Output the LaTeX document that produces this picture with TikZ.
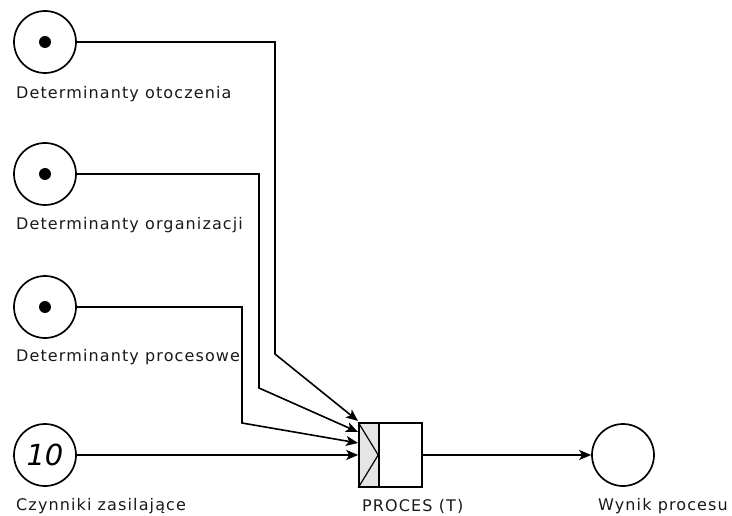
\documentclass[tikz,border=0pt]{standalone}
\usepackage{fontspec}
\usetikzlibrary{arrows.meta}
\newfontfamily\lblfont[LetterSpace=7]{DejaVu Sans}
\newfontfamily\numfont{DejaVu Sans}
\begin{document}
\begin{tikzpicture}[x=1pt,y=-1pt,
  place/.style={circle, draw, line width=1.7pt, minimum size=62pt, inner sep=0pt},
  token/.style={circle, fill=black, minimum size=12pt, inner sep=0pt},
  lbl/.style={anchor=west, inner sep=0pt, text=black!90, font=\lblfont\fontsize{16}{19}\selectfont},
  arc/.style={line width=1.6pt, -{Stealth[length=12pt,width=10pt,inset=3pt]}},
  trans/.style={draw, line width=1.6pt, minimum width=63pt, minimum height=64pt, inner sep=0pt}]
\useasboundingbox (0,0) rectangle (732,516);

% places
\node[place] (p1) at (45,42) {};
\node[token] (k1) at (p1) {};
\node[place] (p2) at (45,174) {};
\node[token] (k2) at (p2) {};
\node[place] (p3) at (45,307) {};
\node[token] (k3) at (p3) {};
\node[place] (p4) at (45,455) {\numfont\itshape\fontsize{29}{30}\selectfont 10};
\node[place] (out) at (623,455) {};

% transition
\fill[black!10] (359,423) rectangle (380,487);
\node[trans] (t) at (390.5,455) {};
\draw[line width=1.6pt] ([xshift=21pt]t.north west) -- ([xshift=21pt]t.south west);
\draw[line width=1.2pt] (t.north west) -- ([xshift=20pt]t.west) -- (t.south west);

% arrow end points
\coordinate (e1) at (358,421);
\coordinate (e2) at (358,432);
\coordinate (e3) at (358,443);

% connectors
\draw[arc] (p1.east) -- (275,42) -- (275,354) -- (e1);
\draw[arc] (p2.east) -- (259,174) -- (259,388) -- (e2);
\draw[arc] (p3.east) -- (242,307) -- (242,423) -- (e3);
\draw[arc] (p4.east) -- (t.west);
\draw[arc] (t.east) -- (out.west);

% labels
\node[lbl] (l1) at (16,94) {Determinanty otoczenia};
\node[lbl] (l2) at (16,225) {Determinanty organizacji};
\node[lbl] (l3) at (16,357) {Determinanty procesowe};
\node[lbl] (l4) at (16,506) {Czynniki zasilające};
\node[lbl] (l5) at (362,506) {PROCES (T)};
\node[lbl] (l6) at (598,506) {Wynik procesu};
\end{tikzpicture}
\end{document}
